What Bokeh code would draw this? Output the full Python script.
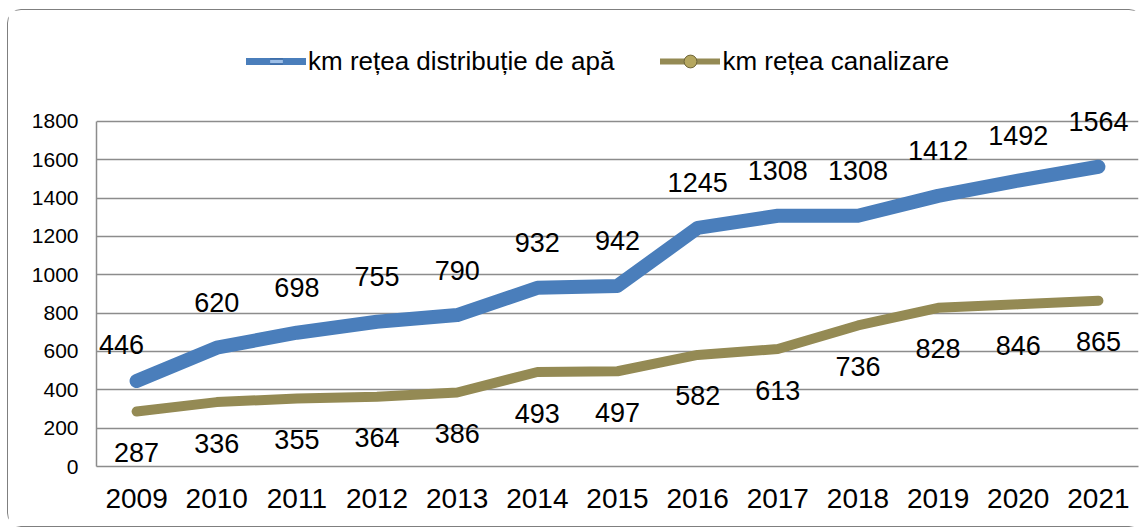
import math
from bokeh.plotting import figure
from bokeh.models import (ColumnDataSource, FactorRange, Range1d, LabelSet, Legend,
                          LegendItem, FixedTicker)
from bokeh.core.properties import value
from bokeh.embed import file_html
from bokeh.resources import INLINE

years = ["2009", "2010", "2011", "2012", "2013", "2014", "2015", "2016",
         "2017", "2018", "2019", "2020", "2021"]
apa = [446, 620, 698, 755, 790, 932, 942, 1245, 1308, 1308, 1412, 1492, 1564]
canal = [287, 336, 355, 364, 386, 493, 497, 582, 613, 736, 828, 846, 865]
y_ticks = [0, 200, 400, 600, 800, 1000, 1200, 1400, 1600, 1800]
name_apa = "km rețea distribuție de apă"
name_canal = "km rețea canalizare"

BLUE = "#4a7ebb"
OLIVE = "#948a54"
GRID = "#8c8c8c"
FONT = "Liberation Sans"

# label offsets (style): the first blue label was moved left in the source chart
blue_dx = [-15] + [0] * (len(years) - 1)
blue_dy = [37] + [45] * (len(years) - 1)

src_apa = ColumnDataSource(dict(x=years, y=apa, t=[str(v) for v in apa],
                                dx=blue_dx, dy=blue_dy))
src_canal = ColumnDataSource(dict(x=years, y=canal, t=[str(v) for v in canal]))

# frame extends above 1800 so the top labels and the legend are not clipped
p = figure(width=1136, height=518, x_range=FactorRange(*years, range_padding=0),
           y_range=Range1d(0, 2321.7), output_backend="svg", toolbar_location=None,
           min_border_left=88, min_border_right=6, min_border_top=11,
           min_border_bottom=62)
p.styles = {"border": "1px solid #7f7f7f", "border-radius": "14px",
            "margin-left": "7px", "margin-top": "9px"}
p.outline_line_color = None
p.background_fill_color = "white"
p.border_fill_color = "white"

p.xgrid.grid_line_color = None
p.ygrid.grid_line_color = GRID
p.ygrid.grid_line_width = 1.5
p.ygrid.bounds = (0, 1800)
p.yaxis.ticker = FixedTicker(ticks=y_ticks)
p.yaxis.bounds = (0, 1800)

for ax in (p.xaxis[0], p.yaxis[0]):
    ax.axis_line_color = GRID
    ax.axis_line_width = 1.5
    ax.major_tick_line_color = None
    ax.minor_tick_line_color = None
    ax.major_tick_out = 0
    ax.major_label_text_font = FONT
    ax.major_label_text_color = "black"

p.yaxis.major_label_text_font_size = "21px"
p.yaxis.major_label_standoff = 18
p.xaxis.major_label_text_font_size = "28px"
p.xaxis.major_label_standoff = 22

p.line("x", "y", source=src_apa, line_color=BLUE, line_width=14,
       line_cap="round", line_join="round")
p.line("x", "y", source=src_canal, line_color=OLIVE, line_width=10,
       line_cap="round", line_join="round")

lab_apa = LabelSet(x="x", y="y", text="t", source=src_apa, x_offset="dx", y_offset="dy",
                   text_align="center", text_baseline="middle", text_font=value(FONT),
                   text_font_size="27px", text_color="black")
lab_canal = LabelSet(x="x", y="y", text="t", source=src_canal, y_offset=-41,
                     text_align="center", text_baseline="middle", text_font=value(FONT),
                     text_font_size="27px", text_color="black")
p.add_layout(lab_apa)
p.add_layout(lab_canal)

# legend proxies (not drawn on plot: NaN values)
nan_src = ColumnDataSource(dict(x=[years[0]], y=[math.nan]))
la = p.line("x", "y", source=nan_src, line_color=BLUE, line_width=7, line_cap="round")
ma1 = p.scatter("x", "y", source=nan_src, marker="dash", line_width=6,
                line_color="#2f5f9a")
ma2 = p.scatter("x", "y", source=nan_src, marker="dash", line_width=3.5,
                line_color="#9dbfe8")
lc = p.line("x", "y", source=nan_src, line_color=OLIVE, line_width=6, line_cap="round")
mc = p.scatter("x", "y", source=nan_src, marker="circle", fill_color="#b5a760",
               line_color="#6f663a", line_width=1)

legend = Legend(items=[LegendItem(label=name_apa, renderers=[la, ma1, ma2]),
                       LegendItem(label=name_canal, renderers=[lc, mc])],
                orientation="horizontal", location=(150, 389),
                glyph_width=60, glyph_height=32, label_standoff=2, spacing=46,
                padding=0, margin=0, border_line_color=None,
                background_fill_alpha=0, label_text_font=FONT,
                label_text_color="black",
                label_text_font_size="26px", label_height=32)
p.add_layout(legend, "center")

open("out.html", "w").write(file_html(p, INLINE))
